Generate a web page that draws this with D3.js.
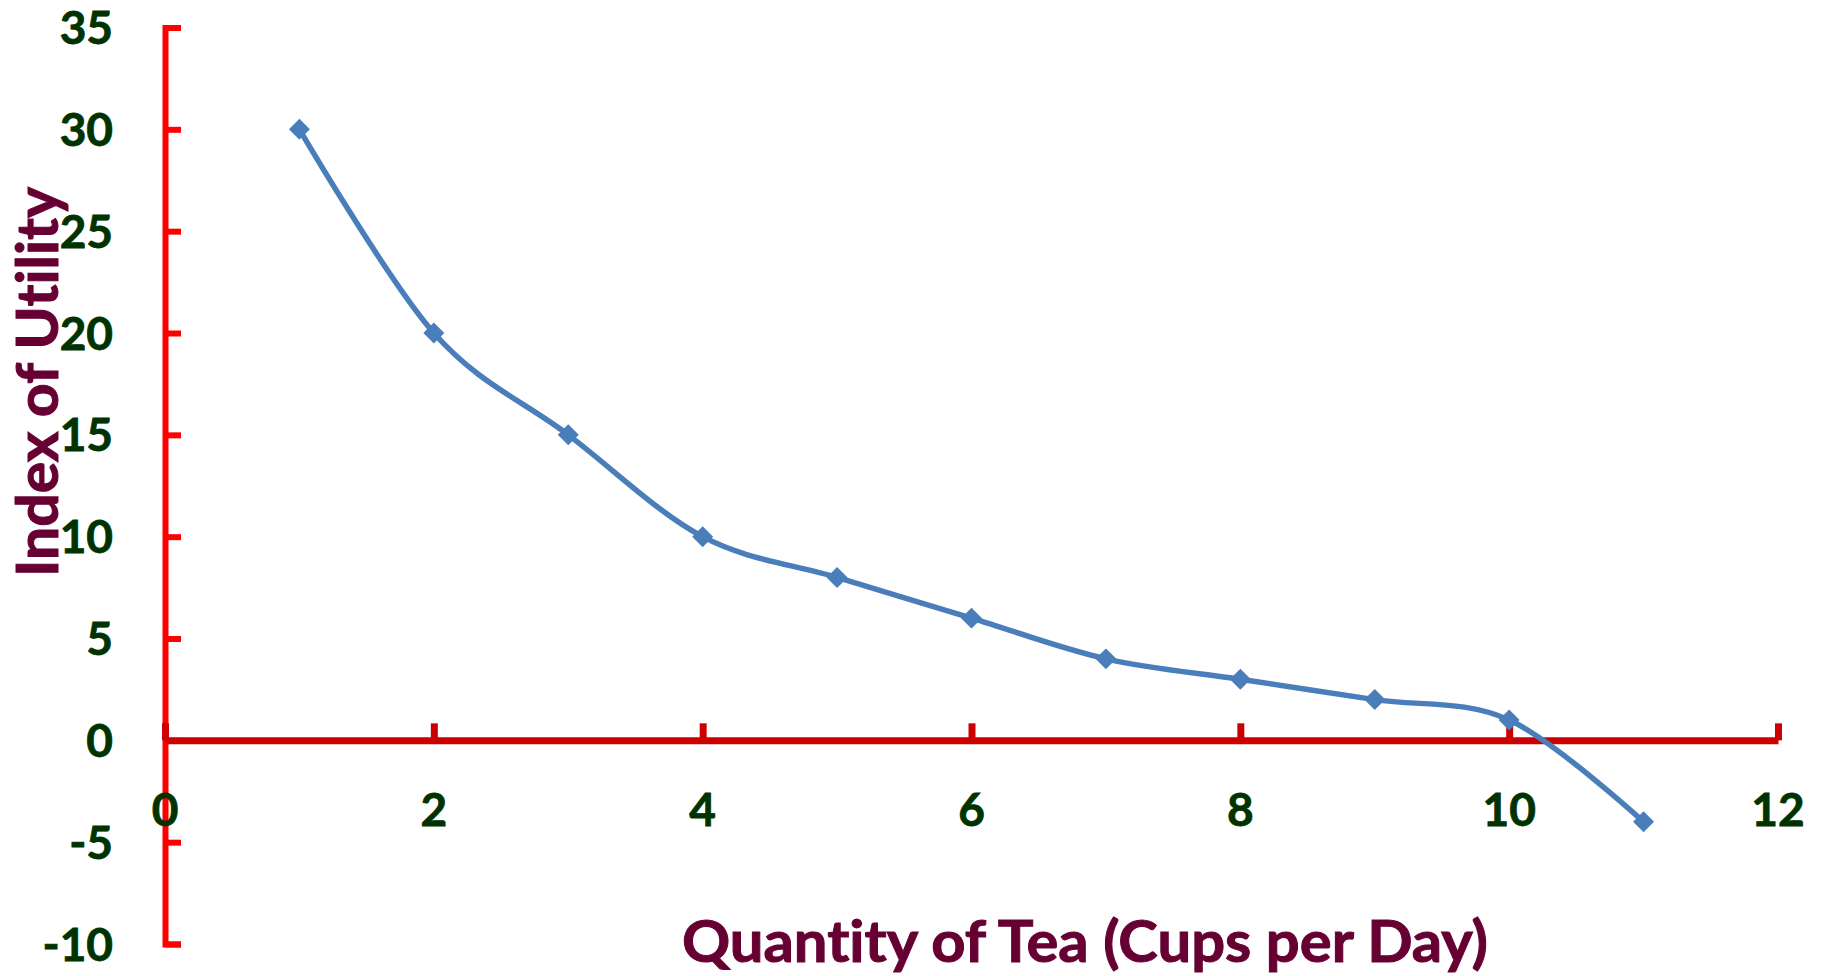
<!DOCTYPE html>
<html>
<head>
<meta charset="utf-8">
<script src="https://cdn.jsdelivr.net/npm/d3@7"></script>
<style>
    html, body { margin: 0; padding: 0; background: #fff; }
    svg { display: block; }
    text { font-variant-ligatures: none; }
</style>
</head>
<body>
<svg width="1826" height="976"></svg>
<script>
/////////////////////////////////
// Utility of tea, cup by cup.
//

const cups = [1, 2, 3, 4, 5, 6, 7, 8, 9, 10, 11];
const utility = [30, 20, 15, 10, 8, 6, 4, 3, 2, 1, -4];
const xTicks = [0, 2, 4, 6, 8, 10, 12];
const yTicks = [-10, -5, 0, 5, 10, 15, 20, 25, 30, 35];
const xTitle = "Quantity of Tea (Cups per Day)";
const yTitle = "Index of Utility";

document.addEventListener("DOMContentLoaded", () => {

    const svg = d3.select("svg");
    const font = "Lato, 'Open Sans', sans-serif";
    const labelColor = "#003300";
    const titleColor = "#660033";
    const lineColor = "#4A7EBB";

    const x = d3.scaleLinear().domain([0, 12]).range([165, 1778]);
    const y = d3.scaleLinear().domain([-10, 35]).range([944, 27.5]);

    const points = cups.map((c, i) => ({ x: c, y: utility[i] }));

    // Vertical axis, bright red, ticks pointing right.
    const yAxis = svg.append("g")
        .attr("transform", `translate(${x(0)},0)`)
        .call(d3.axisRight(y).tickValues(yTicks).tickSize(16).tickSizeOuter(16).tickFormat(""));
    yAxis.select(".domain").attr("stroke", "#FF0000").attr("stroke-width", 6);
    yAxis.selectAll(".tick line").attr("stroke", "#FF0000").attr("stroke-width", 6);

    // Vertical tick labels, drawn apart so they sit on the left.
    svg.append("g")
        .selectAll("text")
        .data(yTicks)
        .enter()
            .append("text")
            .attr("x", 113)
            .attr("y", (d) => y(d))
            .attr("dy", "0.36em")
            .attr("text-anchor", "end")
            .style("font-family", font)
            .style("font-weight", "bold")
            .style("font-size", "46px")
            .style("fill", labelColor)
            .style("stroke", labelColor)
            .style("stroke-width", 0.8)
            .text((d) => d);

    // Horizontal axis at zero, darker red, ticks pointing up.
    const xAxis = svg.append("g")
        .attr("transform", `translate(0,${y(0)})`)
        .call(d3.axisTop(x).tickValues(xTicks).tickSize(17).tickSizeOuter(0).tickFormat(""));
    xAxis.select(".domain").attr("stroke", "#CC0000").attr("stroke-width", 7);
    xAxis.selectAll(".tick line").attr("stroke", "#CC0000").attr("stroke-width", 7);

    svg.append("g")
        .selectAll("text")
        .data(xTicks)
        .enter()
            .append("text")
            .attr("x", (d) => x(d))
            .attr("y", 826)
            .attr("text-anchor", "middle")
            .style("font-family", font)
            .style("font-weight", "bold")
            .style("font-size", "46px")
            .style("fill", labelColor)
            .style("stroke", labelColor)
            .style("stroke-width", 0.8)
            .text((d) => d);

    // Smoothed line, like a spreadsheet's smooth series.
    const line = d3.line()
        .x((d) => x(d.x))
        .y((d) => y(d.y))
        .curve(d3.curveCardinal.tension(0));

    svg.append("path")
        .datum(points)
        .attr("d", line)
        .attr("fill", "none")
        .attr("stroke", lineColor)
        .attr("stroke-width", 5.5);

    svg.append("g")
        .selectAll("path")
        .data(points)
        .enter()
            .append("path")
            .attr("d", d3.symbol().type(d3.symbolSquare).size(220))
            .attr("transform", (d) => `translate(${x(d.x)},${y(d.y)}) rotate(45)`)
            .attr("fill", lineColor);

    // Titles.
    svg.append("text")
        .attr("x", 1085)
        .attr("y", 962)
        .attr("text-anchor", "middle")
        .attr("textLength", 806)
        .attr("lengthAdjust", "spacingAndGlyphs")
        .style("font-family", font)
        .style("font-weight", "bold")
        .style("font-size", "57px")
        .style("fill", titleColor)
        .style("stroke", titleColor)
        .style("stroke-width", 1)
        .text(xTitle);

    svg.append("text")
        .attr("transform", "translate(58,382) rotate(-90)")
        .attr("text-anchor", "middle")
        .attr("textLength", 390)
        .attr("lengthAdjust", "spacingAndGlyphs")
        .style("font-family", font)
        .style("font-weight", "bold")
        .style("font-size", "57px")
        .style("fill", titleColor)
        .style("stroke", titleColor)
        .style("stroke-width", 1)
        .text(yTitle);
});
</script>
</body>
</html>
